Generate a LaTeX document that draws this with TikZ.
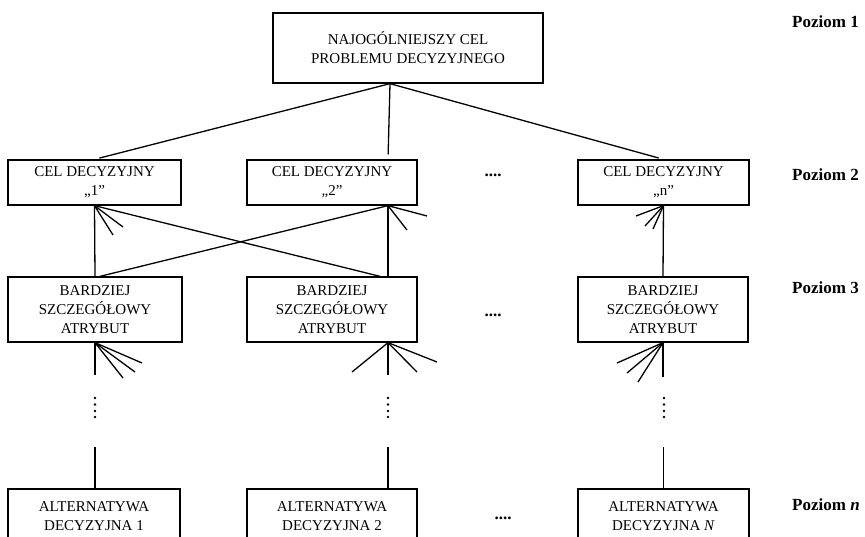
\documentclass[tikz,border=0pt]{standalone}
\usepackage{fontspec}
\setmainfont{Liberation Serif}
\begin{document}
\begin{tikzpicture}[x=1pt,y=-1pt,
  box/.style={draw, line width=1.3pt, inner sep=0pt, align=center,
    font=\fontsize{15}{19}\selectfont},
  link/.style={line width=1.3pt},
  levellabel/.style={anchor=base west, inner sep=0pt,
    font=\fontsize{17}{20}\selectfont\bfseries},
  gapdots/.style={anchor=base, inner sep=0pt,
    font=\fontsize{17}{20}\selectfont\bfseries},
  vdot/.style={fill=black, draw=none}
]
\useasboundingbox (0,0) rectangle (865,537);

% level 1
\node[box, minimum width=270pt, minimum height=70pt] (top) at (408,48)
  {NAJOGÓLNIEJSZY CEL\\PROBLEMU DECYZYJNEGO};

% level 2
\node[box, minimum width=173pt, minimum height=45pt] (c1) at (94.5,182.5)
  {CEL DECYZYJNY\\„1”};
\node[box, minimum width=170pt, minimum height=45pt] (c2) at (332,182.5)
  {CEL DECYZYJNY\\„2”};
\node[box, minimum width=171pt, minimum height=45pt] (cn) at (663.5,182.5)
  {CEL DECYZYJNY\\„n”};

% level 3
\node[box, minimum width=174pt, minimum height=65pt] (a1) at (95,309.5)
  {BARDZIEJ\\SZCZEGÓŁOWY\\ATRYBUT};
\node[box, minimum width=170pt, minimum height=65pt] (a2) at (332,309.5)
  {BARDZIEJ\\SZCZEGÓŁOWY\\ATRYBUT};
\node[box, minimum width=170pt, minimum height=65pt] (an) at (663,309.5)
  {BARDZIEJ\\SZCZEGÓŁOWY\\ATRYBUT};

% level n
\node[box, minimum width=172pt, minimum height=54pt] (d1) at (94,516)
  {ALTERNATYWA\\DECYZYJNA 1};
\node[box, minimum width=170pt, minimum height=54pt] (d2) at (332,516)
  {ALTERNATYWA\\DECYZYJNA 2};
\node[box, minimum width=171pt, minimum height=54pt] (dn) at (663.5,516)
  {ALTERNATYWA\\DECYZYJNA \textit{N}};

% gaps between columns
\node[gapdots] (g2) at (493,177) {....};
\node[gapdots] (g3) at (493,317) {....};
\node[gapdots] (gn) at (503,519) {....};

% level labels
\node[levellabel] (p1) at (792,28) {Poziom 1};
\node[levellabel] (p2) at (792,181) {Poziom 2};
\node[levellabel] (p3) at (792,294) {Poziom 3};
\node[levellabel] (pn) at (792,510) {Poziom \textit{n}};

% level 1 -> level 2
\draw[link, shorten >=5pt] ([xshift=-18pt]top.south) -- (c1.north);
\draw[link, shorten >=5pt] ([xshift=-18pt]top.south) -- ([xshift=56pt]c2.north);
\draw[link, shorten >=5pt] ([xshift=-18pt]top.south) -- (cn.north);

% level 3 -> level 2
\draw[link] (a1.north) -- (c1.south);
\draw[link] ([xshift=56pt]a2.north) -- ([xshift=56pt]c2.south);
\draw[link] (an.north) -- (cn.south);
\draw[link] ([xshift=5pt]a1.north) -- ([xshift=56pt]c2.south);
\draw[link] ([xshift=48pt]a2.north) -- (c1.south);

% stubs of further links entering level 2
\coordinate (s11) at (123,227);
\coordinate (s12) at (113,235);
\coordinate (s21) at (427,216);
\coordinate (s22) at (407,230);
\coordinate (sn1) at (636,216);
\coordinate (sn2) at (645,226);
\coordinate (sn3) at (653,229);
\draw[link] (c1.south) -- (s11);
\draw[link] (c1.south) -- (s12);
\draw[link] ([xshift=56pt]c2.south) -- (s21);
\draw[link] ([xshift=56pt]c2.south) -- (s22);
\draw[link] (cn.south) -- (sn1);
\draw[link] (cn.south) -- (sn2);
\draw[link] (cn.south) -- (sn3);

% stubs of further links entering level 3
\coordinate (r11) at (142,363);
\coordinate (r12) at (135,372);
\coordinate (r13) at (123,378);
\coordinate (r21) at (352,372);
\coordinate (r22) at (417,372);
\coordinate (r23) at (437,362);
\coordinate (rn1) at (617,363);
\coordinate (rn2) at (627,373);
\coordinate (rn3) at (638,382);
\draw[link] (a1.south) -- (r11);
\draw[link] (a1.south) -- (r12);
\draw[link] (a1.south) -- (r13);
\draw[link] ([xshift=56pt]a2.south) -- (r21);
\draw[link] ([xshift=56pt]a2.south) -- (r22);
\draw[link] ([xshift=56pt]a2.south) -- (r23);
\draw[link] (an.south) -- (rn1);
\draw[link] (an.south) -- (rn2);
\draw[link] (an.south) -- (rn3);

% vertical lines below level 3
\coordinate (t1) at (95,375);
\coordinate (t2) at (388,375);
\coordinate (tn) at (663,377);
\draw[link] (a1.south) -- (t1);
\draw[link] ([xshift=56pt]a2.south) -- (t2);
\draw[link] (an.south) -- (tn);

% vertical ellipses
\foreach \xx in {95,388,664}{
  \foreach \yy in {398,404.5,411,417}{
    \fill[vdot] (\xx,\yy) circle (1.4pt);
  }
}

% lines into the alternatives
\coordinate (u1) at (95,447);
\coordinate (u2) at (388,447);
\coordinate (un) at (663.5,447);
\draw[link] (u1) -- ([xshift=1pt]d1.north);
\draw[link] (u2) -- ([xshift=56pt]d2.north);
\draw[link] (un) -- (dn.north);
\end{tikzpicture}
\end{document}
